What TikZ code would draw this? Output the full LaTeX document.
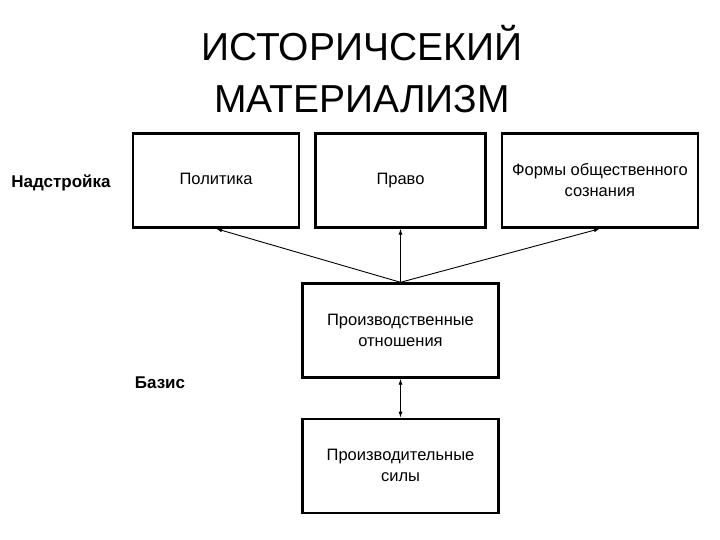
\documentclass[tikz,border=0pt]{standalone}
\usepackage{fontspec}
\setmainfont{Liberation Sans}
\usetikzlibrary{arrows.meta,positioning}

\begin{document}
\begin{tikzpicture}[
  x=1pt, y=-1pt, >={Latex[length=6pt,width=4pt]},
  node distance=14pt and 14pt,
  box/.style={draw, line width=2.4pt, align=center, inner sep=4pt, font=\fontsize{16.5}{21}\selectfont, minimum height=94pt, minimum width=170pt},
  wide/.style={box, minimum width=196pt},
  side/.style={font=\fontsize{17}{20}\selectfont\bfseries},
  every edge/.style={draw, ->, line width=0.9pt}
]
\useasboundingbox (0,0) rectangle (720,540);
\node[font=\fontsize{39}{52}\selectfont, align=center] (title) at (362,69) {ИСТОРИЧСЕКИЙ\\МАТЕРИАЛИЗМ};
\node[box] (law) at (400.5,180.5) {\strut Право};
\node[box, minimum width=166pt, left=of law] (pol) {\strut Политика};
\node[wide, right=of law] (forms) {Формы общественного\\сознания};
\node[wide] (rel) at (400.5,330.5) {Производственные\\отношения};
\node[wide, below=39pt of rel] (forces) {Производительные\\силы};
\node[side] (super) at (61,183) {Надстройка};
\node[side] (basis) at (160,383) {Базис};

\draw (rel.north) edge (pol.south);
\draw (rel.north) edge (law.south);
\draw (rel.north) edge (forms.south);
\draw (rel.south) edge[<->] (forces.north);
\end{tikzpicture}
\end{document}
